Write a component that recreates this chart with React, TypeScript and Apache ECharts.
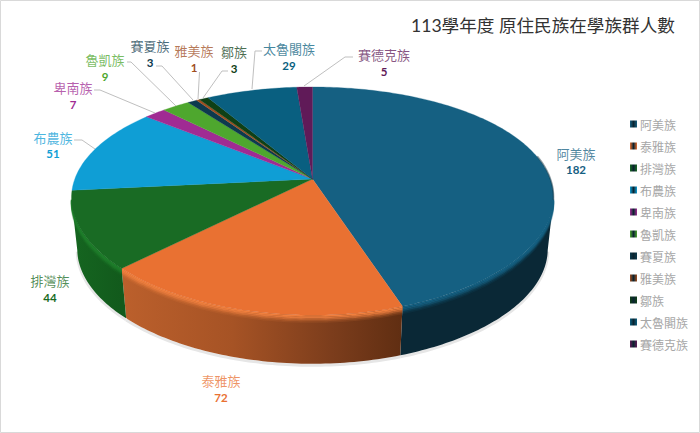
import React, { useEffect, useRef } from "react";
import * as echarts from "echarts";

const TITLE = "113學年度 原住民族在學族群人數";
const CATEGORIES = ["阿美族", "泰雅族", "排灣族", "布農族", "卑南族", "魯凱族", "賽夏族", "雅美族", "鄒族", "太魯閣族", "賽德克族"];
const VALUES = [182, 72, 44, 51, 7, 9, 3, 1, 3, 29, 5];
const COLORS = ["#156082", "#E97132", "#196B24", "#0F9ED5", "#A02B93", "#4EA72E", "#0D3A4E", "#A04E1F", "#0F4016", "#095F80", "#601A58"];

// layout of the labels: centre x, y of the name, y of the number
const LABEL_POS = [
  [576, 153, 169], [221, 380, 397], [50, 280, 297], [53, 137, 153], [73, 87, 104], [105, 59, 76],
  [150, 45, 62], [194, 50, 67], [234, 51, 68], [289, 48, 65], [384, 54, 71],
];
const LEADERS: number[][][] = [
  [], [], [],
  [[74, 140], [82, 140], [95, 149]],
  [[94, 90], [100, 90], [155, 113]],
  [[127, 62], [131, 62], [176, 106]],
  [[156, 66], [162, 66], [193, 100]],
  [[199.5, 72], [198, 99]],
  [[228, 71], [222, 71], [203, 98]],
  [[262, 51], [255, 51], [252, 89]],
  [[353, 57], [345, 57], [304, 86]],
];

const CX = 312.5, CY = 179, A = 237.7, B = 109.8, PX = 0.165, PY = 0.193, DEPTH = 52, SHRINK = 0.976;
const VIS_START = 100, VIS_END = 260;

function pt(deg: number, down = false, extra = 0): number[] {
  const t = (deg * Math.PI) / 180;
  const u = Math.sin(t), v = -Math.cos(t);
  const s = down ? SHRINK : 1;
  return [CX + (A * s * u) / (1 - PX * v), CY + (down ? DEPTH : 0) + (B * s * v) / (1 - PY * v) + extra];
}
function arc(a: number, b: number, down = false, extra = 0): number[][] {
  const out: number[][] = [];
  const n = Math.max(2, Math.ceil(Math.abs(b - a)));
  for (let i = 0; i <= n; i++) out.push(pt(a + ((b - a) * i) / n, down, extra));
  return out;
}

const TOTAL = VALUES.reduce((s, x) => s + x, 0);
function startAngle(i: number) {
  return (VALUES.slice(0, i).reduce((s, x) => s + x, 0) / TOTAL) * 360;
}

function wallFill(i: number): any {
  if (i === 0) return "#0A2836";
  if (i === 1)
    return new echarts.graphic.LinearGradient(120, 0, 402, 0, [
      { offset: 0, color: "#BC602C" },
      { offset: 0.4, color: "#A65325" },
      { offset: 0.75, color: "#7C3D1C" },
      { offset: 1, color: "#602E12" },
    ], true as any);
  if (i === 2)
    return new echarts.graphic.LinearGradient(75, 0, 122, 0, [
      { offset: 0, color: "#156520" },
      { offset: 1, color: "#125A1C" },
    ], true as any);
  return COLORS[i];
}
const BEVEL = ["#156082", "#F0803F", "#1F7F2B", "#0F9ED5", "#A02B93", "#4EA72E", "#0D3A4E", "#A04E1F", "#0F4016", "#095F80", "#601A58"];
const BEVEL_STEPS = [[1, 1], [2.5, 0.85], [4, 0.6], [5.5, 0.3], [7, 0.12]];

function renderSlice(params: any, api: any) {
  const i = params.seriesIndex;
  const a0 = startAngle(i);
  const a1 = a0 + (api.value(0) / TOTAL) * 360;
  const children: any[] = [];
  const w0 = Math.max(a0, VIS_START), w1 = Math.min(a1, VIS_END);
  if (w1 > w0) {
    children.push({
      type: "polyline",
      shape: { points: arc(w0, w1, true, 1.5) },
      style: { stroke: "#E6E6E6", lineWidth: 3, fill: "none" },
    });
    children.push({
      type: "polygon",
      shape: { points: [...arc(w0, w1), ...arc(w1, w0, true)] },
      style: { fill: wallFill(i), stroke: "none" },
    });
    BEVEL_STEPS.forEach(([d, o]) => {
      children.push({
        type: "polyline",
        shape: { points: arc(w0, w1, false, d) },
        style: { stroke: BEVEL[i], opacity: o, lineWidth: 1.6, fill: "none" },
      });
    });
  }
  children.push({
    type: "polygon",
    shape: { points: [[CX, CY], ...arc(a0, a1)] },
    style: { fill: COLORS[i], stroke: COLORS[i], lineWidth: 0.3 },
  });
  if (i === 0) {
    children.push({
      type: "polyline",
      shape: { points: arc(78, 101, false, -0.8) },
      style: { stroke: "#0A2836", opacity: 0.45, lineWidth: 1.6, fill: "none" },
    });
  }
  if (LEADERS[i].length) {
    children.push({
      type: "polyline",
      shape: { points: LEADERS[i] },
      style: { stroke: "#BFBFBF", lineWidth: 1, fill: "none" },
    });
  }
  const [lx, ny, vy] = LABEL_POS[i];
  children.push({
    type: "text",
    style: {
      text: CATEGORIES[i], x: lx, y: ny, fill: COLORS[i], opacity: 0.75,
      font: '13px "Noto Sans CJK TC"', align: "center", verticalAlign: "middle",
    },
  });
  children.push({
    type: "text",
    style: {
      text: String(api.value(0)), x: lx, y: vy, fill: COLORS[i],
      font: 'bold 11.5px Lato', align: "center", verticalAlign: "middle",
    },
  });
  return { type: "group", children };
}

export default function App() {
  const ref = useRef<HTMLDivElement>(null);
  useEffect(() => {
    document.body.style.margin = "0";
    const chart = echarts.init(ref.current!, null, { renderer: "svg" });
    chart.setOption({
      animation: false,
      backgroundColor: "#fff",
      title: {
        text: TITLE,
        left: 411,
        top: 17,
        padding: 0,
        textStyle: { fontFamily: 'Lato, "Noto Sans CJK TC"', fontSize: 17.6, fontWeight: "normal", color: "#333" },
      },
      legend: {
        orient: "vertical",
        left: 630,
        top: 118,
        padding: 0,
        itemWidth: 7,
        itemHeight: 7,
        itemGap: 10,
        icon: "rect",
        selectedMode: false,
        textStyle: { fontFamily: '"Noto Sans CJK TC"', fontSize: 12, color: "#A6A6A6", padding: [0, 0, 0, -2] },
        data: CATEGORIES.map((name, i) => ({
          name,
          itemStyle: {
            color: new echarts.graphic.LinearGradient(0, 0, 1, 0, [
              { offset: 0, color: COLORS[i] },
              { offset: 0.5, color: "#0B2430" },
              { offset: 1, color: COLORS[i] },
            ]),
          },
        })),
      },
      graphic: [
        {
          type: "rect",
          silent: true,
          shape: { x: 0.5, y: 0.5, width: 699, height: 432 },
          style: { fill: "none", stroke: "#D9D9D9", lineWidth: 1 },
        },
      ],
      series: CATEGORIES.map((name, i) => ({
        type: "custom",
        name,
        coordinateSystem: "none",
        silent: true,
        itemStyle: { color: COLORS[i] },
        renderItem: renderSlice,
        data: [[VALUES[i]]],
      })),
    });
    return () => chart.dispose();
  }, []);
  return <div ref={ref} style={{ width: 700, height: 433 }} />;
}
